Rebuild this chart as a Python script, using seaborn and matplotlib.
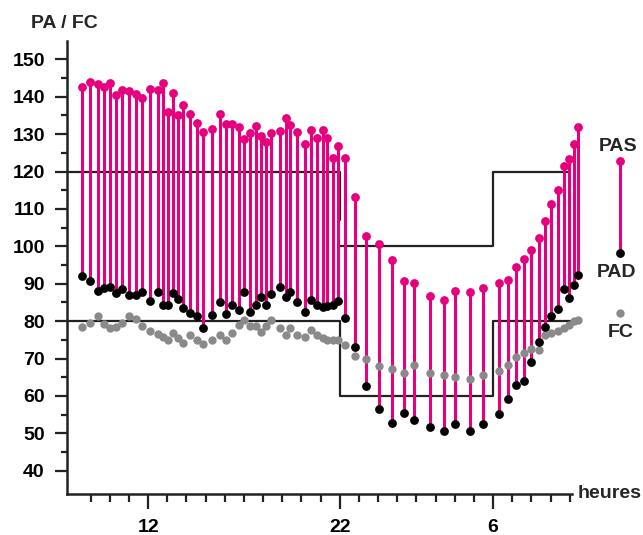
import pandas as pd
import seaborn as sns
import matplotlib.pyplot as plt
from matplotlib.ticker import FixedLocator

# heures de mesure (au-dela de 24 = nuit / matin du lendemain)
hours = [8.55, 8.99, 9.39, 9.72, 10.03, 10.31, 10.64, 11.01, 11.37, 11.70,
         12.09, 12.50, 12.80, 13.04, 13.32, 13.58, 13.83, 14.18, 14.54, 14.89,
         15.36, 15.76, 16.07, 16.40, 16.73, 17.01, 17.33, 17.64, 17.88, 18.14,
         18.42, 18.86, 19.17, 19.43, 19.78, 20.20, 20.51, 20.83, 21.12, 21.36,
         21.64, 21.92, 22.25,
         22.77, 23.37, 24.03, 24.71, 25.33, 25.86, 26.69, 27.42, 28.02, 28.81, 29.48,
         30.31, 30.76, 31.18, 31.63, 31.98, 32.38, 32.71, 33.04, 33.41, 33.71,
         33.97, 34.23, 34.45]
pas = [142.7, 144.0, 143.3, 142.6, 143.6, 140.4, 141.7, 141.5, 140.6, 139.7,
       142.0, 141.7, 143.6, 135.8, 140.9, 135.0, 137.9, 135.3, 132.9, 130.5,
       131.3, 135.3, 132.6, 132.6, 131.8, 128.8, 130.2, 132.1, 129.4, 128.0,
       130.2, 130.8, 134.2, 132.4, 130.5, 127.3, 131.1, 129.1, 131.2, 129.1,
       123.7, 126.8, 123.7,
       113.2, 102.8, 100.6, 96.4, 90.8, 90.2, 86.8, 85.7, 88.1, 87.8, 88.9,
       90.2, 91.0, 94.5, 96.6, 99.0, 102.2, 106.8, 111.3, 115.0, 121.4,
       123.3, 127.3, 131.8]
pad = [92.2, 90.7, 88.2, 89.0, 89.2, 87.4, 88.7, 87.0, 87.0, 87.8,
       85.5, 87.9, 84.3, 84.3, 87.6, 86.0, 83.6, 82.2, 81.3, 78.2,
       81.7, 85.2, 82.0, 84.3, 83.0, 87.8, 82.5, 84.4, 86.4, 84.2,
       87.3, 89.2, 86.5, 87.9, 85.1, 82.4, 85.6, 84.4, 83.7, 84.0,
       84.2, 85.5, 80.9,
       73.2, 62.7, 56.6, 52.9, 55.5, 53.7, 51.7, 50.7, 52.6, 50.7, 52.4,
       55.3, 59.3, 62.9, 64.1, 69.2, 74.5, 78.5, 81.4, 83.2, 88.5,
       86.2, 89.7, 92.4]
fc = [78.4, 79.5, 81.3, 79.2, 78.2, 78.4, 79.5, 81.3, 80.5, 78.8,
      77.5, 76.6, 75.9, 75.0, 76.9, 75.6, 74.1, 76.3, 75.0, 73.9,
      75.0, 76.4, 75.0, 76.9, 78.9, 80.2, 78.8, 78.7, 77.2, 78.7,
      80.2, 78.2, 76.3, 78.2, 76.4, 75.7, 77.7, 76.3, 75.5, 75.0,
      75.0, 75.0, 73.7,
      70.8, 69.9, 68.0, 67.3, 66.2, 68.4, 66.2, 65.5, 65.1, 64.6, 65.5,
      66.7, 68.4, 70.4, 71.6, 72.6, 72.4, 76.4, 76.8, 77.5, 78.2,
      79.0, 80.0, 80.2]

# seuils (jour 120/80, nuit 100/60)
sys_day_x, sys_day_y = [7.77, 22, 22], [120, 120, 107]
sys_night_x, sys_night_y = [22, 30, 30, 34], [100, 100, 120, 120]
dia_x, dia_y = [7.77, 22, 22, 30, 30, 34], [80, 80, 60, 60, 80, 80]

tick_hours = [12, 22, 30]
tick_labels = ['12', '22', '6']

PINK = '#E6007E'
GRAY = '#8a8a8a'
LINE = '#222222'

sns.set_style('ticks')
plt.rcParams['font.family'] = ['Liberation Sans', 'DejaVu Sans']
plt.rcParams['font.weight'] = 'bold'
plt.rcParams['font.size'] = 14

df = pd.DataFrame({'heure': hours, 'PAS': pas, 'PAD': pad, 'FC': fc})

fig = plt.figure(figsize=(6.43, 5.35), dpi=100)
ax = fig.add_axes([67 / 643, 41 / 535, 576 / 643, 453 / 535])

ax.plot(sys_day_x, sys_day_y, color=LINE, lw=1.6, zorder=1)
ax.plot(sys_night_x, sys_night_y, color=LINE, lw=1.6, zorder=1)
ax.plot(dia_x, dia_y, color=LINE, lw=1.6, zorder=1)

ax.vlines(df['heure'], df['PAD'], df['PAS'], color=PINK, lw=2.2, zorder=2)
sns.scatterplot(data=df, x='heure', y='FC', color=GRAY, s=36, linewidth=0, ax=ax, zorder=3)
sns.scatterplot(data=df, x='heure', y='PAS', color=PINK, s=40, linewidth=0, ax=ax, zorder=4)
sns.scatterplot(data=df, x='heure', y='PAD', color='black', s=40, linewidth=0, ax=ax, zorder=4)

# legende
lx = 36.63
ax.vlines([lx], [98.1], [122.9], color=PINK, lw=2.2)
ax.scatter([lx], [122.9], color=PINK, s=40, linewidth=0, zorder=4)
ax.scatter([lx], [98.1], color='black', s=40, linewidth=0, zorder=4)
ax.scatter([lx], [82.1], color=GRAY, s=36, linewidth=0, zorder=4)
ax.text(lx - 0.1, 126.6, 'PAS', ha='center', va='center')
ax.text(lx - 0.2, 93.0, 'PAD', ha='center', va='center')
ax.text(lx + 0.05, 77.0, 'FC', ha='center', va='center')

ax.set_xlim(7.77, 37.82)
ax.set_ylim(33.8, 154.9)
ax.set_xlabel('')
ax.set_ylabel('')

ax.xaxis.set_major_locator(FixedLocator(tick_hours))
ax.set_xticklabels(tick_labels)
ax.xaxis.set_minor_locator(FixedLocator([h for h in range(9, 35) if h not in tick_hours]))
ax.yaxis.set_major_locator(FixedLocator(range(40, 151, 10)))
ax.yaxis.set_minor_locator(FixedLocator(range(45, 150, 10)))

ax.tick_params(axis='x', which='major', length=11, width=1.6, pad=7, colors=LINE, labelcolor='black')
ax.tick_params(axis='x', which='minor', length=5.5, width=1.6, colors=LINE)
ax.tick_params(axis='y', which='major', length=8.5, width=1.6, pad=7.5, colors=LINE, labelcolor='black')
ax.tick_params(axis='y', which='minor', length=4.5, width=1.6, colors=LINE)

sns.despine(ax=ax)
for s in ['left', 'bottom']:
    ax.spines[s].set_linewidth(1.8)
    ax.spines[s].set_color(LINE)
ax.spines['bottom'].set_bounds(7.77, 34.1)

ax.text(34.43, 33.8, 'heures', ha='left', va='center', clip_on=False)
fig.text(64 / 643, 1 - 24 / 535, 'PA / FC', ha='center', va='center')

fig.savefig('out.png', dpi=100)
